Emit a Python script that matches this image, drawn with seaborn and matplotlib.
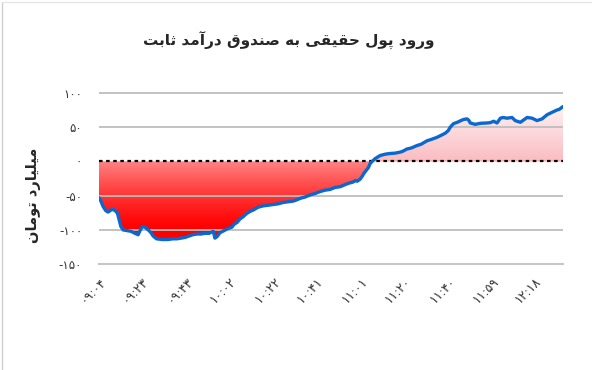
import numpy as np
import matplotlib
matplotlib.use("Agg")
import matplotlib.pyplot as plt
from matplotlib.lines import Line2D
import seaborn as sns

minutes = [0, 0.9, 1.9, 3.1, 4.1, 5.4, 6.4, 7.6, 8.3, 9.1, 9.8, 10.8, 12.5,
           14.3, 16.1, 17.5, 18.5, 19.4, 20.5, 22.0, 23.2, 24.2, 25.7, 28.1,
           30.8, 33.0, 34.8, 36.6, 38.4, 40.1, 41.9, 43.7, 45.5, 47.3, 49.1,
           51.0, 51.7, 52.6, 54.0, 55.8, 57.5, 59.3, 60.2, 61.6, 62.9, 64.2,
           65.9, 67.4, 68.8, 70.9, 73.1, 75.4, 77.6, 79.8, 82.1, 84.3, 86.6,
           88.3, 89.7, 91.9, 94.1, 96.3, 98.6, 100.8, 103.0, 105.3, 107.5,
           109.7, 111.2, 112.4, 113.4, 114.2, 115.1, 116.4, 117.3, 118.2,
           119.4, 120.1, 120.9, 121.8, 123.1, 125.3, 127.6, 129.8, 132.0,
           134.3, 135.6, 137.2, 139.2, 141.7, 143.6, 146.2, 148.1, 150.6,
           152.5, 154.3, 155.7, 156.6, 158.0, 159.7, 161.0, 162.4, 164.0,
           164.8, 165.5, 167.7, 169.9, 172.9, 174.4, 175.9, 177.4, 178.9,
           180.2, 181.8, 184.1, 185.5, 187.8, 189.1, 190.8, 193.0, 195.2,
           197.5, 199.7, 201.9, 204.2, 205.2, 206.8]
inflow = [-53, -58, -66, -72, -74, -71, -70, -73, -76, -86, -95, -100, -101,
          -102, -105, -107, -100, -95, -96, -100, -104, -109, -113, -114,
          -114, -113, -113, -112, -111, -109, -107, -106, -106, -105, -105,
          -102, -112, -110, -104, -101, -98, -96, -92, -89, -84, -81,
          -76, -73, -71, -67, -65, -64, -63, -62, -60, -59, -58,
          -56, -54, -52, -49, -47, -44, -42, -41, -38, -37,
          -34, -32, -31, -30, -28, -29, -26, -22, -17,
          -12, -9, -3, 0, 4, 8.5, 10.5, 11.5, 12,
          13.5, 15, 18, 19.5, 23, 25, 30, 32, 35,
          38, 41, 45, 50, 55, 57, 59, 61, 62,
          60, 56, 54, 55.5, 56, 56.5, 58.5, 56, 63,
          64, 63, 64, 59.5, 57, 60, 64, 63, 59.5,
          62, 68, 71.5, 75, 76, 80]

tick_minutes = [0, 19, 39, 58, 78, 97, 117, 136, 156, 175, 194]
tick_labels = ["09:04", "09:23", "09:43", "10:02", "10:22", "10:41",
               "11:01", "11:20", "11:40", "11:59", "12:18"]
y_ticks = [-150, -100, -50, 0, 50, 100]
grid_levels = [100, 50, -50, -100]

TITLE = "ورود پول حقیقی به صندوق درآمد ثابت"
YLABEL = "میلیارد تومان"

FA_DIGITS = str.maketrans("0123456789", "۰۱۲۳۴۵۶۷۸۹")

# isolated, final, initial, medial presentation forms
FORMS = {
    "ا": ("\uFE8D", "\uFE8E", None, None),
    "آ": ("\uFE81", "\uFE82", None, None),
    "ب": ("\uFE8F", "\uFE90", "\uFE91", "\uFE92"),
    "ت": ("\uFE95", "\uFE96", "\uFE97", "\uFE98"),
    "ث": ("\uFE99", "\uFE9A", "\uFE9B", "\uFE9C"),
    "ح": ("\uFEA1", "\uFEA2", "\uFEA3", "\uFEA4"),
    "د": ("\uFEA9", "\uFEAA", None, None),
    "ر": ("\uFEAD", "\uFEAE", None, None),
    "ص": ("\uFEB9", "\uFEBA", "\uFEBB", "\uFEBC"),
    "ق": ("\uFED5", "\uFED6", "\uFED7", "\uFED8"),
    "ل": ("\uFEDD", "\uFEDE", "\uFEDF", "\uFEE0"),
    "م": ("\uFEE1", "\uFEE2", "\uFEE3", "\uFEE4"),
    "ن": ("\uFEE5", "\uFEE6", "\uFEE7", "\uFEE8"),
    "ه": ("\uFEE9", "\uFEEA", "\uFEEB", "\uFEEC"),
    "و": ("\uFEED", "\uFEEE", None, None),
    "پ": ("\uFB56", "\uFB57", "\uFB58", "\uFB59"),
    "ی": ("\uFBFC", "\uFBFD", "\uFBFE", "\uFBFF"),
}


def shape_fa(text):
    """Very small Persian shaper: pick joined forms, then reverse for RTL."""
    out = []
    for i, c in enumerate(text):
        if c not in FORMS:
            out.append(c)
            continue
        iso, fin, ini, med = FORMS[c]
        prev = text[i - 1] if i > 0 else ""
        nxt = text[i + 1] if i + 1 < len(text) else ""
        jp = prev in FORMS and FORMS[prev][2] is not None
        jn = ini is not None and nxt in FORMS
        if jp and jn:
            out.append(med)
        elif jp:
            out.append(fin)
        elif jn:
            out.append(ini)
        else:
            out.append(iso)
    return "".join(out)[::-1]


sns.set_style("white")
plt.rcParams["font.family"] = ["DejaVu Sans"]

fig = plt.figure(figsize=(5.92, 3.70), dpi=100)
ax = fig.add_axes([0.167, 0.286, 0.784, 0.465])

x = np.array(minutes)
y = np.array(inflow)

for v in grid_levels:
    ax.plot([x[0], x[-1]], [v, v], color="#bdbdbd", lw=1.3, zorder=2)

# gradient fill between the curve and zero
grad_y = np.linspace(100, -150, 500)
cols = np.ones((500, 1, 4))
for k, v in enumerate(grad_y):
    if v >= 0:
        t = min(v / 85.0, 1.0)
        cols[k, 0, :3] = (0.98 + 0.02 * t, 0.74 + 0.22 * t, 0.76 + 0.20 * t)
    else:
        t = min(-v / 100.0, 1.0)
        g = 0.52 * (1 - t) ** 1.3
        cols[k, 0, :3] = (1.0, g, g)
img = ax.imshow(cols, aspect="auto", extent=[x[0], x[-1], -150, 100],
                origin="upper", zorder=1, interpolation="bilinear")
poly = ax.fill_between(x, y, 0, color="none", lw=0)
img.set_clip_path(poly.get_paths()[0], transform=ax.transData)

ax.axhline(0, color="black", lw=1.6, ls=(0, (1.6, 1.6)), zorder=3)

sns.lineplot(x=x, y=y, ax=ax, color="#0b68cf", lw=2.4, zorder=4)

ax.set_xlim(x[0], x[-1])
ax.set_ylim(-150, 101)
ax.set_yticks(y_ticks)
ax.set_yticklabels([str(v).translate(FA_DIGITS) for v in y_ticks],
                   fontsize=8.5, color="#333333")
ax.set_xticks(tick_minutes)
ax.set_xticklabels([t.translate(FA_DIGITS) for t in tick_labels], fontsize=9,
                   rotation=45, ha="right", va="top", rotation_mode="anchor",
                   color="#333333")
ax.tick_params(axis="x", length=5, color="#cccccc", width=1, pad=3)
ax.tick_params(axis="y", which="major", length=0, pad=12)
for s in ["top", "right", "left"]:
    ax.spines[s].set_visible(False)
ax.spines["bottom"].set_color("#c6c6c6")
ax.spines["bottom"].set_linewidth(1.5)
ax.set_xlabel("")
ax.set_ylabel(shape_fa(YLABEL), fontsize=10.5, fontweight="bold")
ax.yaxis.set_label_coords(-0.125, 0.40)

fig.text(0.487, 0.89, shape_fa(TITLE), ha="center", va="center",
         fontsize=11, fontweight="bold")

# thin frame at the left/top edge of the image
fig.add_artist(Line2D([0.004, 0.004], [0, 0.995], color="#cfcfcf", lw=1))
fig.add_artist(Line2D([0.004, 1], [0.995, 0.995], color="#e6e6e6", lw=1))

fig.savefig("out.png", dpi=100)
